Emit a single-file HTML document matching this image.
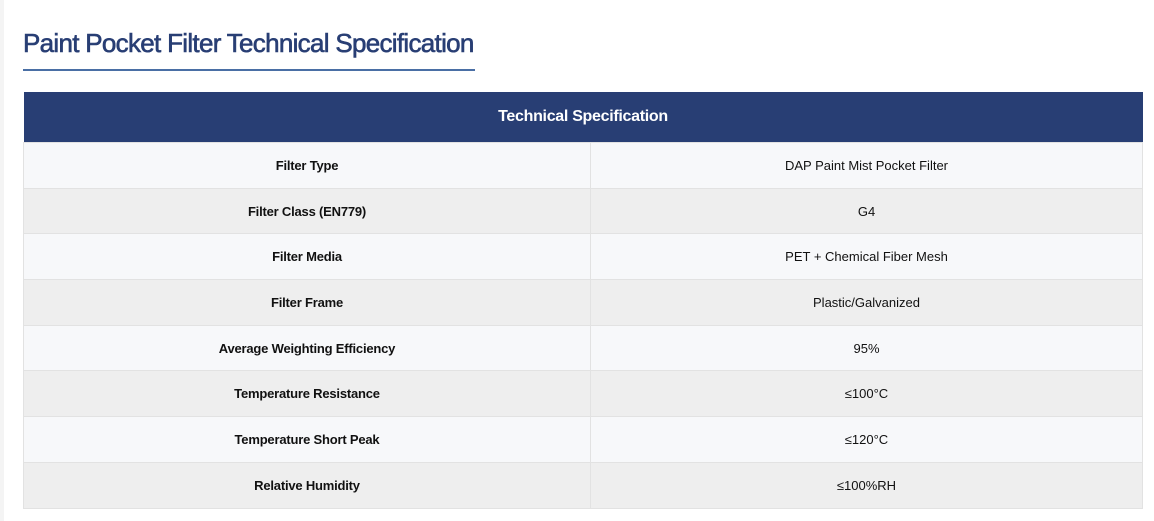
<!DOCTYPE html>
<html><head><meta charset="utf-8"><style>
body{margin:0;background:#fff;font-family:"Liberation Sans",sans-serif;width:1154px;height:521px;overflow:hidden;position:relative}
.edge{position:absolute;left:0;top:0;width:4px;height:521px;background:#f4f4f4}
h1{position:absolute;left:23px;top:28px;margin:0;font-size:26px;font-weight:normal;color:#283e74;letter-spacing:-0.7px;line-height:30px;-webkit-text-stroke:0.6px #283e74;white-space:nowrap}
.ul{position:absolute;left:23px;top:69px;width:452px;height:2px;background:#4a6fa5}
table{position:absolute;left:23px;top:92px;width:1120px;border-collapse:collapse;font-size:13px;color:#111}
th{background:#283e74;color:#fff;height:50px;font-size:16px;letter-spacing:-0.3px;padding:0}
td{height:44.7px;border:1px solid #e2e2e2;text-align:center;padding:0}
td:first-child{width:566px;font-weight:bold;letter-spacing:-0.2px}
tr:nth-child(odd) td{background:#f7f8fa}
tr:nth-child(even) td{background:#eeeeee}
</style></head><body>
<div class="edge"></div>
<h1>Paint Pocket Filter Technical Specification</h1>
<div class="ul"></div>
<table>
<thead><tr><th colspan="2">Technical Specification</th></tr></thead>
<tbody>
<tr><td>Filter Type</td><td>DAP Paint Mist Pocket Filter</td></tr>
<tr><td>Filter Class (EN779)</td><td>G4</td></tr>
<tr><td>Filter Media</td><td>PET + Chemical Fiber Mesh</td></tr>
<tr><td>Filter Frame</td><td>Plastic/Galvanized</td></tr>
<tr><td>Average Weighting Efficiency</td><td>95%</td></tr>
<tr><td>Temperature Resistance</td><td>≤100°C</td></tr>
<tr><td>Temperature Short Peak</td><td>≤120°C</td></tr>
<tr><td>Relative Humidity</td><td>≤100%RH</td></tr>
</tbody></table>
</body></html>
